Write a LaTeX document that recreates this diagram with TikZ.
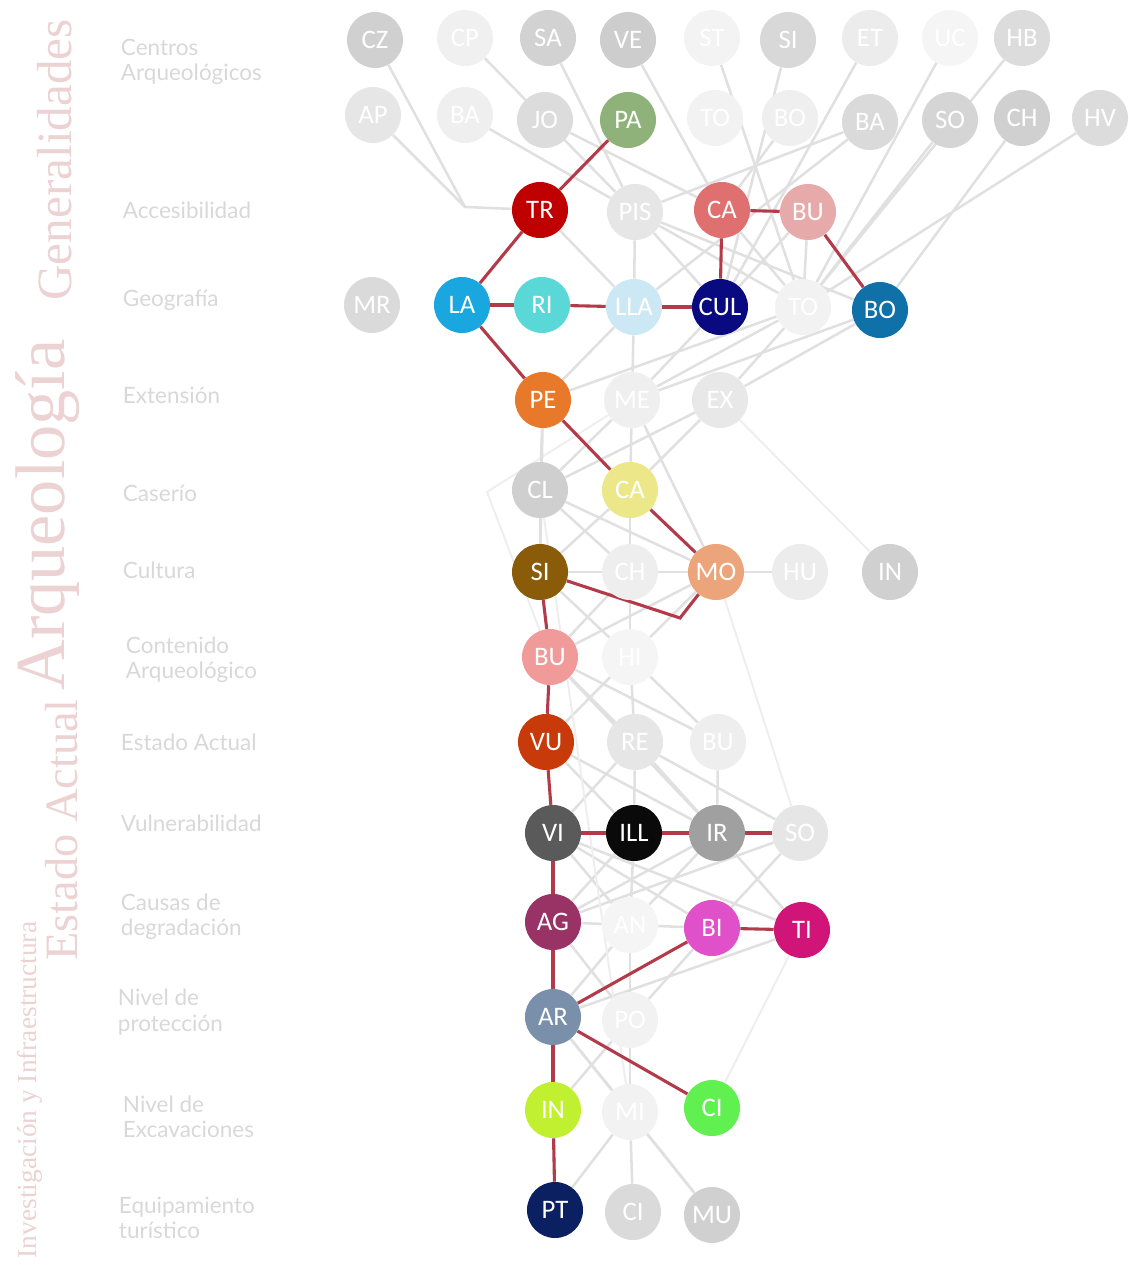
\documentclass[tikz,border=0pt]{standalone}
\usepackage{fontspec}
\setsansfont{Carlito}
\setmainfont{Liberation Serif}
\newfontfamily\rowfont{Lato}
\usetikzlibrary{backgrounds}
\definecolor{redline}{HTML}{B33A48}
\definecolor{grayline}{HTML}{E0E0E0}
\definecolor{titlecol}{HTML}{ECD2D2}
\definecolor{rowcol}{HTML}{D8D8D8}

\begin{document}
\begin{tikzpicture}[
  x=0.025cm, y=-0.025cm,
  nd/.style={circle, minimum size=1.4cm, inner sep=0pt, text=white,
             font=\sffamily\fontsize{19}{19}\selectfont},
  rowlbl/.style={anchor=west, align=left, text=rowcol,
                 font=\rowfont\fontsize{16}{18}\selectfont},
  title/.style={rotate=90, text=titlecol},
  rline/.style={draw=redline, line width=2.2pt},
  gline/.style={draw=grayline, line width=1.8pt},
  fline/.style={draw=grayline!55, line width=1.4pt}
]
  \useasboundingbox (0,0) rectangle (1129,1271);

  \node[title, font=\fontsize{35}{35}\selectfont] (tgen) at (55,160) {Generalidades};
  \node[title, font=\fontsize{50}{50}\selectfont] (tarq) at (48,515) {Arqueología};
  \node[title, font=\fontsize{33}{33}\selectfont] (test) at (62,830) {Estado Actual};
  \node[title, font=\fontsize{19.5}{19.5}\selectfont] (tinv) at (30,1090) {Investigación y Infraestructura};

  \node[rowlbl] (l1)  at (116,62)   {Centros\\Arqueológicos};
  \node[rowlbl] (l2)  at (118,210)  {Accesibilidad};
  \node[rowlbl] (l3)  at (118,300)  {Geografía};
  \node[rowlbl] (l4)  at (118,395)  {Extensión};
  \node[rowlbl] (l5)  at (118,493)  {Caserío};
  \node[rowlbl] (l6)  at (118,570)  {Cultura};
  \node[rowlbl] (l7)  at (121,660)  {Contenido\\Arqueológico};
  \node[rowlbl] (l8)  at (116,742)  {Estado Actual};
  \node[rowlbl] (l9)  at (116,823)  {Vulnerabilidad};
  \node[rowlbl] (l10) at (116,917)  {Causas de\\degradación};
  \node[rowlbl] (l11) at (113,1012) {Nivel de\\protección};
  \node[rowlbl] (l12) at (118,1117) {Nivel de\\Excavaciones};
  \node[rowlbl] (l13) at (114,1218) {Equipamiento\\turístico};

  \node[nd, fill={rgb,255:red,208;green,208;blue,208}] (cz) at (375,40) {CZ};
  \node[nd, fill={rgb,255:red,240;green,240;blue,240}] (cp) at (465,38) {CP};
  \node[nd, fill={rgb,255:red,210;green,210;blue,210}] (sa) at (548,38) {SA};
  \node[nd, fill={rgb,255:red,205;green,205;blue,205}] (ve) at (628,40) {VE};
  \node[nd, fill={rgb,255:red,243;green,243;blue,243}] (st) at (712,38) {ST};
  \node[nd, fill={rgb,255:red,216;green,216;blue,216}] (si) at (788,40) {SI};
  \node[nd, fill={rgb,255:red,236;green,236;blue,236}] (et) at (870,38) {ET};
  \node[nd, fill={rgb,255:red,245;green,245;blue,245}] (uc) at (950,38) {UC};
  \node[nd, fill={rgb,255:red,220;green,220;blue,220}] (hb) at (1022,38) {HB};

  \node[nd, fill={rgb,255:red,230;green,230;blue,230}] (ap) at (373,115) {AP};
  \node[nd, fill={rgb,255:red,239;green,239;blue,239}] (ba) at (465,115) {BA};
  \node[nd, fill={rgb,255:red,220;green,220;blue,220}] (jo) at (545,120) {JO};
  \node[nd, fill={rgb,255:red,143;green,178;blue,122}] (pa) at (628,120) {PA};
  \node[nd, fill={rgb,255:red,242;green,242;blue,242}] (to) at (715,118) {TO};
  \node[nd, fill={rgb,255:red,239;green,239;blue,239}] (bo) at (790,118) {BO};
  \node[nd, fill={rgb,255:red,218;green,218;blue,218}] (bab) at (870,122) {BA};
  \node[nd, fill={rgb,255:red,213;green,213;blue,213}] (so) at (950,120) {SO};
  \node[nd, fill={rgb,255:red,208;green,208;blue,208}] (ch) at (1022,118) {CH};
  \node[nd, fill={rgb,255:red,220;green,220;blue,220}] (hv) at (1100,118) {HV};

  \node[nd, fill={rgb,255:red,192;green,0;blue,0}] (tr) at (540,210) {TR};
  \node[nd, fill={rgb,255:red,230;green,230;blue,230}] (pis) at (635,212) {PIS};
  \node[nd, fill={rgb,255:red,224;green,112;blue,112}] (caa) at (722,210) {CA};
  \node[nd, fill={rgb,255:red,230;green,170;blue,170}] (bua) at (808,212) {BU};

  \node[nd, fill={rgb,255:red,218;green,218;blue,218}] (mr) at (372,305) {MR};
  \node[nd, fill={rgb,255:red,26;green,167;blue,224}] (la) at (462,305) {LA};
  \node[nd, fill={rgb,255:red,90;green,216;blue,216}] (ri) at (542,305) {RI};
  \node[nd, fill={rgb,255:red,205;green,232;blue,245}] (lla) at (634,307) {LLA};
  \node[nd, fill={rgb,255:red,10;green,10;blue,128}] (cul) at (720,307) {CUL};
  \node[nd, fill={rgb,255:red,242;green,242;blue,242}] (tog) at (803,307) {TO};
  \node[nd, fill={rgb,255:red,16;green,112;blue,168}] (bog) at (880,310) {BO};

  \node[nd, fill={rgb,255:red,232;green,120;blue,42}] (pe) at (543,400) {PE};
  \node[nd, fill={rgb,255:red,239;green,239;blue,239}] (me) at (632,400) {ME};
  \node[nd, fill={rgb,255:red,232;green,232;blue,232}] (ex) at (720,400) {EX};

  \node[nd, fill={rgb,255:red,207;green,207;blue,207}] (cl) at (540,490) {CL};
  \node[nd, fill={rgb,255:red,236;green,232;blue,138}] (cac) at (630,490) {CA};

  \node[nd, fill={rgb,255:red,138;green,92;blue,10}] (sic) at (540,572) {SI};
  \node[nd, fill={rgb,255:red,238;green,238;blue,238}] (chc) at (630,572) {CH};
  \node[nd, fill={rgb,255:red,236;green,164;blue,122}] (mo) at (716,572) {MO};
  \node[nd, fill={rgb,255:red,236;green,236;blue,236}] (hu) at (800,572) {HU};
  \node[nd, fill={rgb,255:red,208;green,208;blue,208}] (inc) at (890,572) {IN};

  \node[nd, fill={rgb,255:red,240;green,154;blue,154}] (bun) at (550,657) {BU};
  \node[nd, fill={rgb,255:red,245;green,245;blue,245}] (hi) at (630,657) {HI};

  \node[nd, fill={rgb,255:red,200;green,58;blue,10}] (vu) at (546,742) {VU};
  \node[nd, fill={rgb,255:red,230;green,230;blue,230}] (re) at (635,742) {RE};
  \node[nd, fill={rgb,255:red,238;green,238;blue,238}] (bue) at (718,742) {BU};

  \node[nd, fill={rgb,255:red,90;green,90;blue,90}] (vi) at (553,833) {VI};
  \node[nd, fill={rgb,255:red,10;green,10;blue,10}] (ill) at (634,833) {ILL};
  \node[nd, fill={rgb,255:red,160;green,160;blue,160}] (ir) at (717,833) {IR};
  \node[nd, fill={rgb,255:red,230;green,230;blue,230}] (sov) at (800,833) {SO};

  \node[nd, fill={rgb,255:red,153;green,51;blue,102}] (ag) at (553,922) {AG};
  \node[nd, fill={rgb,255:red,245;green,245;blue,245}] (an) at (630,925) {AN};
  \node[nd, fill={rgb,255:red,224;green,80;blue,200}] (bi) at (712,928) {BI};
  \node[nd, fill={rgb,255:red,208;green,20;blue,120}] (ti) at (802,930) {TI};

  \node[nd, fill={rgb,255:red,122;green,143;blue,170}] (ar) at (553,1017) {AR};
  \node[nd, fill={rgb,255:red,242;green,242;blue,242}] (po) at (630,1020) {PO};

  \node[nd, fill={rgb,255:red,192;green,240;blue,48}] (inx) at (553,1110) {IN};
  \node[nd, fill={rgb,255:red,242;green,242;blue,242}] (mi) at (630,1112) {MI};
  \node[nd, fill={rgb,255:red,96;green,240;blue,80}] (cix) at (712,1108) {CI};

  \node[nd, fill={rgb,255:red,10;green,32;blue,96}] (pt) at (555,1210) {PT};
  \node[nd, fill={rgb,255:red,218;green,218;blue,218}] (cit) at (633,1212) {CI};
  \node[nd, fill={rgb,255:red,208;green,208;blue,208}] (mu) at (712,1215) {MU};

  \coordinate (kacc) at (465,207);
  \coordinate (kmo) at (680,618);
  \coordinate (kcl) at (487,492);

  \begin{scope}[on background layer]
    \draw[gline] (cz) -- (kacc) -- (tr);
    \draw[gline] (ap) -- (kacc);
    \draw[fline] (me) -- (kcl) -- (bun);
    \foreach \a/\b in {cp/pis, ba/pis, sa/pis, jo/caa, ve/caa, st/tog, si/cul,
                       et/cul, uc/tog, hb/tog, bab/pis, bab/lla, so/tog, ch/bog,
                       hv/tog, bo/caa, tr/lla, pis/lla, pis/tog, pis/bog,
                       pis/cul, caa/tog, bua/tog, bua/cul, lla/me, lla/pe,
                       cul/me, tog/pe, tog/me, bog/me, bog/ex, tog/ex,
                       pe/cl, me/cl, me/cac, ex/cl, ex/cac, me/mo, pe/sic,
                       cl/sic, cl/chc, cl/mo, cac/sic, cac/chc, chc/mo, mo/hu,
                       sic/chc, sic/hi, chc/bun, mo/bun, mo/hi, chc/hi,
                       bun/re, hi/re, bun/bue, hi/vu, hi/bue, bun/ir,
                       re/vi, re/ill, re/ir, re/sov, bue/ir, vu/ir, vu/ill,
                       vi/an, vi/bi, ill/ag, ill/an, ir/ag, ir/ti, sov/ag,
                       sov/bi, vi/ti, ir/an, ag/an, an/bi, an/ar, ti/ar,
                       ag/po, an/po, bi/po, ar/mi, ar/pt, po/mi, po/inx,
                       ar/mu, mi/cit, mi/mu, mi/pt, ag/inx, vi/ar}
      \draw[gline] (\a) -- (\b);
    \foreach \a/\b in {ex/inc, cl/mi, mo/sov, ti/cix}
      \draw[fline] (\a) -- (\b);
    \foreach \a/\b in {pa/tr, tr/la, la/ri, ri/lla, lla/cul, cul/caa, caa/bua,
                       bua/bog, la/pe, pe/cac, cac/mo, sic/bun, bun/vu, vu/vi,
                       vi/ill, ill/ir, ir/sov, vi/ag, ag/ar, ar/bi, bi/ti,
                       ar/cix, ar/inx, inx/pt}
      \draw[rline] (\a) -- (\b);
    \draw[rline] (mo) -- (kmo) -- (sic);
  \end{scope}
\end{tikzpicture}
\end{document}
